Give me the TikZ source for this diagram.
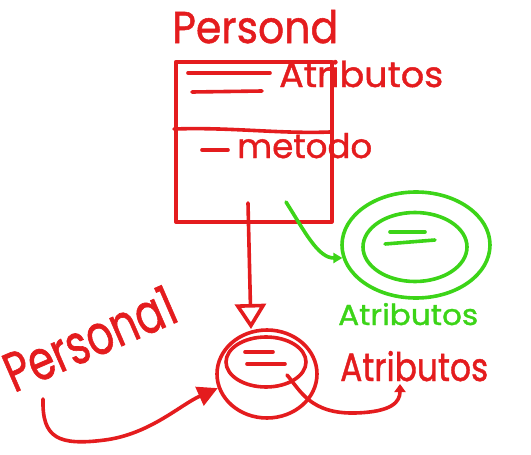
\documentclass[tikz,border=0pt]{standalone}
\usepackage{fontspec}
\usepackage{graphicx}
\setmainfont{Poppins}[FakeBold=1.2]
\usetikzlibrary{arrows.meta,shapes.geometric}
\definecolor{inkred}{RGB}{228,28,30}
\definecolor{inkgreen}{RGB}{60,212,24}
% fit a word into a given width and height
\newcommand{\fitword}[3]{\resizebox{#1pt}{#2pt}{#3}}
\begin{document}
\begin{tikzpicture}[x=1pt,y=-1pt,
  ink/.style={line width=3.6pt,line cap=round,line join=round},
  redink/.style={ink,draw=inkred},
  greenink/.style={ink,draw=inkgreen},
  word/.style={inner sep=0pt,anchor=base west},
  redword/.style={word,text=inkred},
  greenword/.style={word,text=inkgreen}]
\useasboundingbox (0,0) rectangle (531,455);

% class box
\node[redink,rectangle,minimum width=156pt,minimum height=160pt,inner sep=0pt,anchor=north west] (cls) at (174,60) {};
\node[redword] (clsname) at (172,43) {\fitword{166}{33}{Persond}};
\draw[redink] (174,129) .. controls (230,127) and (280,134) .. (330,132);
\draw[redink] (188,73) -- (270,73);
\draw[redink] (192,92) -- (262,91);
\node[redword] (attrA) at (279,87) {\fitword{164}{27}{Atributos}};
\draw[redink] (202,150) -- (228,150);
\node[redword] (meth) at (237,158) {\fitword{135}{25}{metodo}};

% object of the class
\node[redink,ellipse,minimum width=100pt,minimum height=88pt] (obj) at (267,374) {};
\node[redink,ellipse,minimum width=80pt,minimum height=50pt] (objin) at (266,362) {};
\draw[redink] (245,352) -- (273,352);
\draw[redink] (247,364) -- (285,364);
\node[redword] (attrB) at (340,381) {\fitword{148}{30}{Atributos}};
\node[redword,rotate=23.5] (objname) at (14,393) {\fitword{182}{40}{Persona1}};

% instantiation link
\coordinate (down) at (248,203);
\coordinate (downtip) at (251,329);
\draw[redink,-{Triangle[open,width=31pt,length=25pt]}] (down) -- (downtip);

% attribute pointer of the object
\coordinate (objattr) at (287,375);
\coordinate (attrBtip) at (400,384);
\draw[redink,-{Triangle[width=11pt,length=8pt]}] (objattr) .. controls (300,390) and (310,414) .. (355,413) .. controls (392,412) and (400,402) .. (attrBtip);

% name pointer of the object
\coordinate (nametail) at (43,399);
\draw[redink,-{Triangle[width=20pt,length=20pt]}] (nametail) .. controls (42,438) and (58,446) .. (105,440) .. controls (150,434) and (180,405) .. (obj.196);

% attribute group
\node[greenink,ellipse,minimum width=148pt,minimum height=106pt] (grp) at (416,245) {};
\node[greenink,ellipse,minimum width=104pt,minimum height=69pt] (grpin) at (415,247) {};
\draw[greenink] (390,232) -- (425,232);
\draw[greenink] (385,244) -- (435,240);
\node[greenword] (attrC) at (338,325) {\fitword{140}{22}{Atributos}};
\coordinate (grptail) at (286,202);
\draw[greenink,-{Triangle[width=10pt,length=9pt]}] (grptail) .. controls (305,232) and (318,258) .. (grp.190);
\end{tikzpicture}
\end{document}
